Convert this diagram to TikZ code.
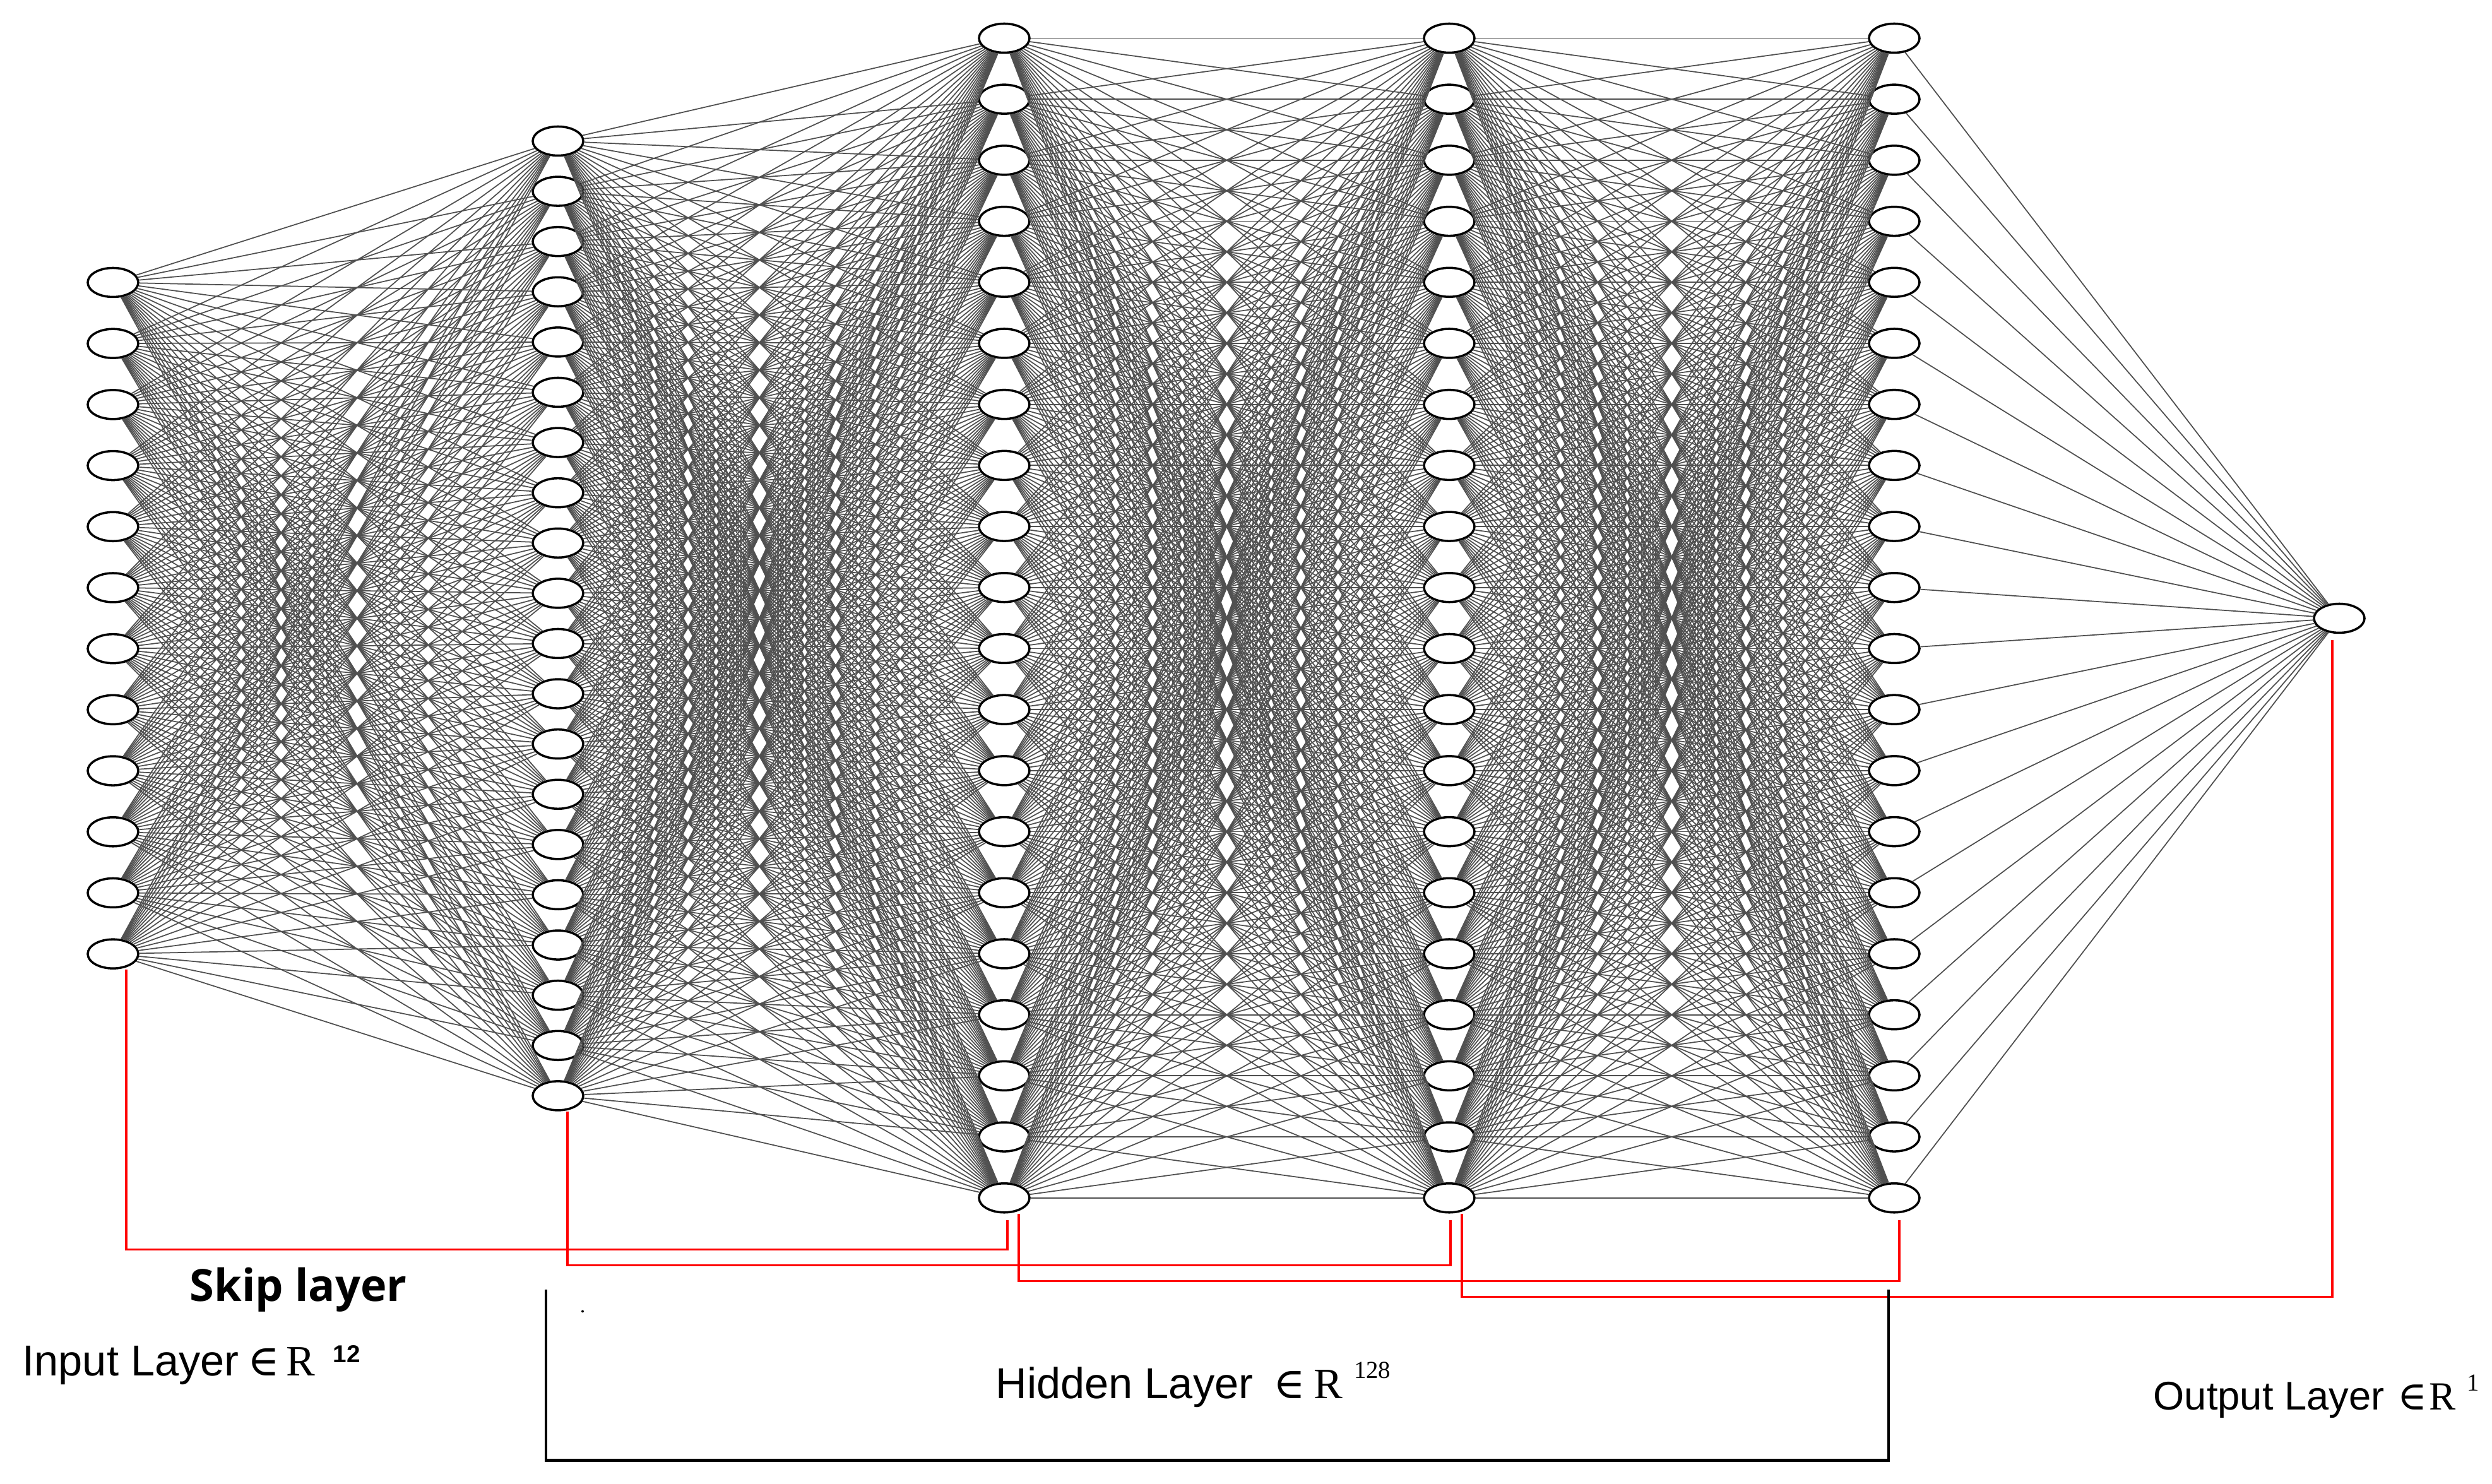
\documentclass[tikz,border=0pt]{standalone}
\usepackage{fontspec}
\setmainfont{Liberation Sans}
\newfontfamily\serif{Liberation Serif}
\newfontfamily\symfont{DejaVu Serif}
\newfontfamily\skipfont{Open Sans}
\usetikzlibrary{shapes.geometric}
\definecolor{wirecol}{RGB}{80,80,80}

\begin{document}
\begin{tikzpicture}
\tikzstyle{neuron}=[ellipse, draw, fill=white, line width=1pt, minimum width=0.8cm, minimum height=0.46cm, inner sep=0pt]
\tikzstyle{wire}=[draw=wirecol, line width=0.5pt]
\tikzstyle{skip}=[draw=red, line width=1.1pt]
\tikzstyle{layertext}=[anchor=base west, inner sep=0pt, font=\fontsize{19.5}{23}\selectfont]

\useasboundingbox (0,-13.715) rectangle (39.48,9.795);

% input layer, 12 units
\foreach \i in {1,...,12}
  \node[neuron] (I\i) at (1.79, {5.32-0.967*(\i-1)}) {};
% hidden layers
\foreach \j in {1,...,20}
  \node[neuron] (A\j) at (8.84, {7.56-0.796*(\j-1)}) {};
\foreach \c/\x in {B/15.91, C/22.96, D/30.01}
  \foreach \j in {1,...,20}
    \node[neuron] (\c\j) at (\x, {9.19-0.967*(\j-1)}) {};
% output
\node[neuron] (O) at (37.06,0) {};

% dense connections
\foreach \i in {1,...,12}
  \foreach \j in {1,...,20}
    \draw[wire] (I\i) -- (A\j);
\foreach \p/\q in {A/B, B/C, C/D}
  \foreach \i in {1,...,20}
    \foreach \j in {1,...,20}
      \draw[wire] (\p\i) -- (\q\j);
\foreach \j in {1,...,20}
  \draw[wire] (D\j) -- (O);

% skip connections
\coordinate (s1) at ([xshift=0.5mm,yshift=-1mm]B20.south);
\coordinate (s2) at ([xshift=0.2mm,yshift=-1mm]C20.south);
\coordinate (s3) at ([xshift=0.8mm,yshift=-1mm]D20.south);
\coordinate (s4) at ([xshift=-1.1mm,yshift=-1mm]O.south);
\draw[skip] ([xshift=2.1mm]I12.south) |- (s1 |- 0,-10.00) -- (s1);
\draw[skip] ([xshift=1.5mm]A20.south) |- (s2 |- 0,-10.25) -- (s2);
\draw[skip] ([xshift=2.3mm]B20.south) |- (s3 |- 0,-10.50) -- (s3);
\draw[skip] ([xshift=2.0mm]C20.south) |- (s4 |- 0,-10.75) -- (s4);

\node[anchor=base west, inner sep=0pt, font=\skipfont\bfseries\fontsize{20}{24}\selectfont] (skiplab) at (3.0,-10.82) {Skip layer};

% layer captions
\node[layertext] (inlab) at (0.35,-12.0) {Input Layer\hspace{4pt}{\symfont ∈}\hspace{3pt}{\serif R}\hspace{8pt}\raisebox{6pt}{\fontsize{11}{11}\selectfont\bfseries 12}};
\node[layertext] (hidlab) at (15.77,-12.36) {Hidden Layer\hspace{9pt}{\symfont ∈}\hspace{4pt}{\serif R}\hspace{5pt}\raisebox{9pt}{\serif\fontsize{11}{11}\selectfont 128}};
\node[layertext, font=\fontsize{18}{22}\selectfont] (outlab) at (34.11,-12.54) {Output Layer\hspace{6pt}{\symfont ∈}\hspace{1pt}{\serif R}\hspace{5pt}\raisebox{8.5pt}{\serif\fontsize{11}{11}\selectfont 1}};

% bracket under hidden layers
\draw[line width=1.4pt] (8.65,-10.64) -- (8.65,-13.34) -- (29.92,-13.34) -- (29.92,-10.64);
\fill (9.23,-10.98) circle (0.02);
\end{tikzpicture}
\end{document}
